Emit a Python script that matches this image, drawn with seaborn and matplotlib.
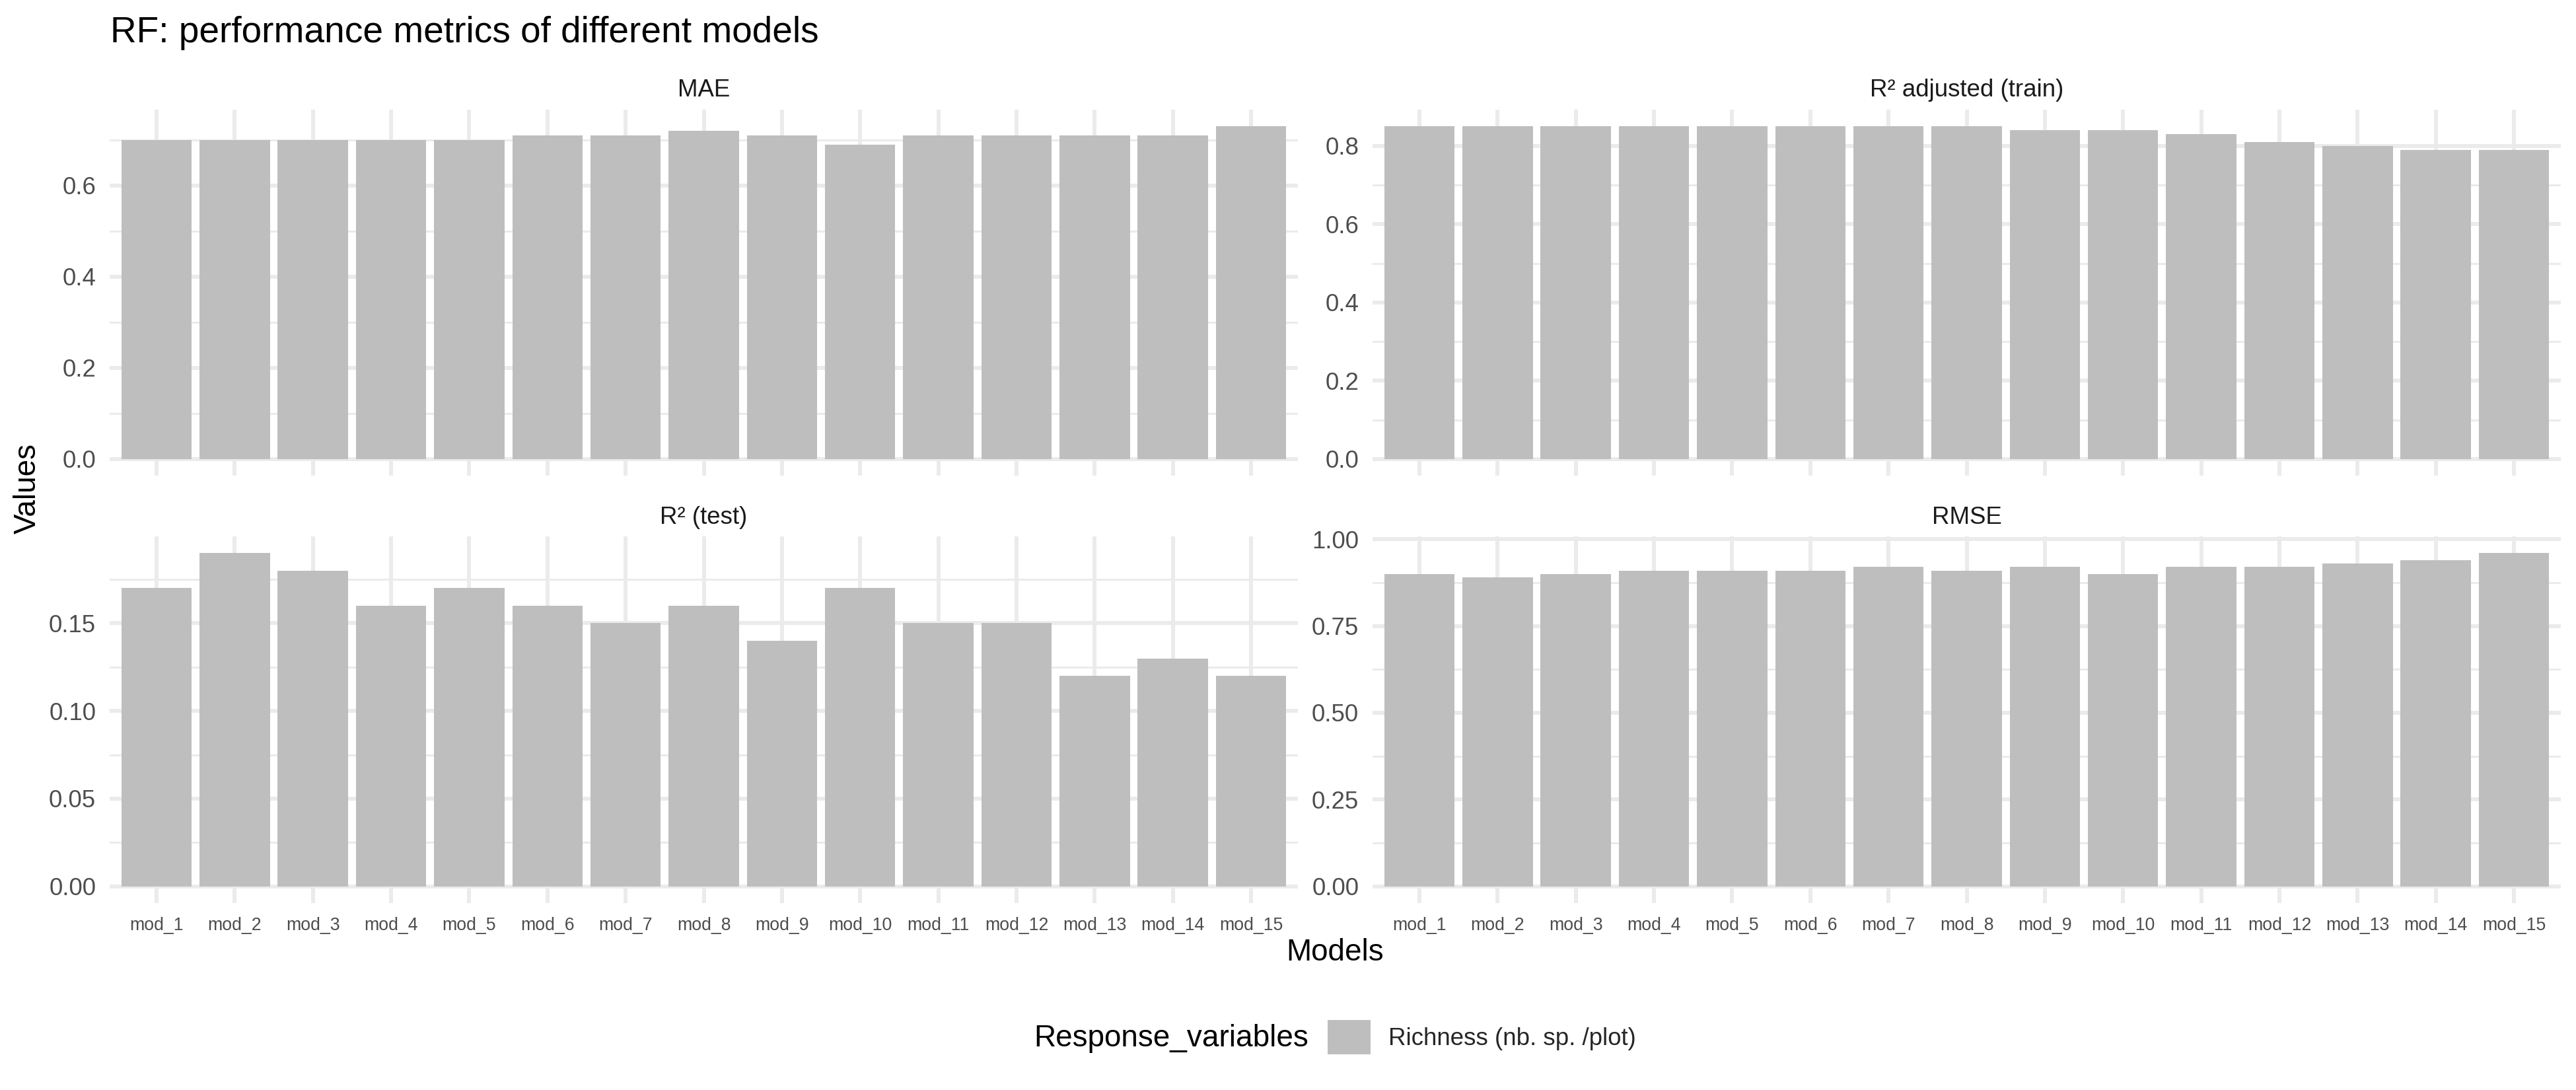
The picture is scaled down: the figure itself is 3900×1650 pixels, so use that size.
import numpy as np
import pandas as pd
import matplotlib
matplotlib.use("Agg")
import matplotlib.pyplot as plt
import matplotlib.ticker as mticker
from matplotlib.patches import Patch
import seaborn as sns

# ---- data ----
models = [f"mod_{i}" for i in range(1, 16)]
mae = [0.70, 0.70, 0.70, 0.70, 0.70, 0.71, 0.71, 0.72, 0.71, 0.69, 0.71, 0.71, 0.71, 0.71, 0.73]
r2_adj_train = [0.85, 0.85, 0.85, 0.85, 0.85, 0.85, 0.85, 0.85, 0.84, 0.84, 0.83, 0.81, 0.80, 0.79, 0.79]
r2_test = [0.17, 0.19, 0.18, 0.16, 0.17, 0.16, 0.15, 0.16, 0.14, 0.17, 0.15, 0.15, 0.12, 0.13, 0.12]
rmse = [0.90, 0.89, 0.90, 0.91, 0.91, 0.91, 0.92, 0.91, 0.92, 0.90, 0.92, 0.92, 0.93, 0.94, 0.96]
metric_names = ["MAE", "R\u00b2 adjusted (train)", "R\u00b2 (test)", "RMSE"]
response_label = "Richness (nb. sp. /plot)"

metric_values = [mae, r2_adj_train, r2_test, rmse]
major_ticks = [
    [0.0, 0.2, 0.4, 0.6],
    [0.0, 0.2, 0.4, 0.6, 0.8],
    [0.0, 0.05, 0.10, 0.15],
    [0.0, 0.25, 0.50, 0.75, 1.00],
]
tick_fmt = ["%.1f", "%.1f", "%.2f", "%.2f"]

sns.set_theme(style="white")
plt.rcParams["font.family"] = ["Liberation Sans", "DejaVu Sans"]

W, H = 3900, 1650
DPI = 300
fig = plt.figure(figsize=(W / DPI, H / DPI), dpi=DPI)
fig.patch.set_facecolor("white")

def fx(px):
    return px / W

def fy(py):
    return 1 - py / H

panel_x = [(166, 1965), (2078, 3877)]
panel_y = [(166, 720), (812, 1367)]

BAR = "#BEBEBE"
GRID = "#EBEBEB"

for idx, (name, vals) in enumerate(zip(metric_names, metric_values)):
    r, c = divmod(idx, 2)
    x0, x1 = panel_x[c]
    y0, y1 = panel_y[r]
    ax = fig.add_axes([fx(x0), fy(y1), fx(x1) - fx(x0), fy(y0) - fy(y1)])
    df = pd.DataFrame({"Models": models, "Values": vals})
    sns.barplot(data=df, x="Models", y="Values", order=models, color=BAR,
                saturation=1, width=0.9, ax=ax, edgecolor="none", linewidth=0,
                errorbar=None, zorder=3)
    vmax = max(vals)
    ax.set_xlim(-0.6, len(models) - 1 + 0.6)
    ax.set_ylim(-0.05 * vmax, 1.05 * vmax)
    mt = major_ticks[idx]
    step = mt[1] - mt[0]
    ax.yaxis.set_major_locator(mticker.FixedLocator(mt))
    minors = [t + step / 2 for t in [mt[0] - step] + mt if -0.05 * vmax <= t + step / 2 <= 1.05 * vmax]
    ax.yaxis.set_minor_locator(mticker.FixedLocator(minors))
    ax.yaxis.set_major_formatter(mticker.FormatStrFormatter(tick_fmt[idx]))
    ax.grid(which="major", axis="both", color=GRID, linewidth=1.42, zorder=0)
    ax.grid(which="minor", axis="y", color=GRID, linewidth=0.71, zorder=0)
    ax.set_axisbelow(True)
    for s in ax.spines.values():
        s.set_visible(False)
    ax.set_facecolor("white")
    ax.tick_params(axis="y", which="both", length=0, pad=5, labelsize=8.8, labelcolor="#4D4D4D")
    ax.tick_params(axis="x", which="both", length=0, pad=5, labelsize=6.4, labelcolor="#4D4D4D")
    ax.set_xlabel("")
    ax.set_ylabel("")
    if r == 0:
        ax.tick_params(axis="x", labelbottom=False)
    # strip label
    strip_y = 137 if r == 0 else 783
    fig.text(fx((x0 + x1) / 2), fy(strip_y), name, ha="center", va="center",
             fontsize=8.8, color="#1A1A1A")

# title
fig.text(fx(167), fy(50), "RF: performance metrics of different models",
         ha="left", va="center", fontsize=13.2, color="black")
# axis titles
fig.text(fx(2021), fy(1442), "Models", ha="center", va="center", fontsize=11, color="black")
fig.text(fx(42), fy(739), "Values", ha="center", va="center", rotation=90, fontsize=11, color="black")

# legend
fig.text(fx(1981), fy(1572), "Response_variables", ha="right", va="center",
         fontsize=11, color="black")
handle = Patch(facecolor=BAR, edgecolor="none", label=response_label)
fig.legend(handles=[handle], loc="center left", bbox_to_anchor=(fx(2010), fy(1570)),
           frameon=False, fontsize=8.8, handlelength=1.77, handleheight=1.82,
           handletextpad=0.74, borderpad=0, borderaxespad=0)

fig.savefig("out.png", dpi=DPI, facecolor="white")
